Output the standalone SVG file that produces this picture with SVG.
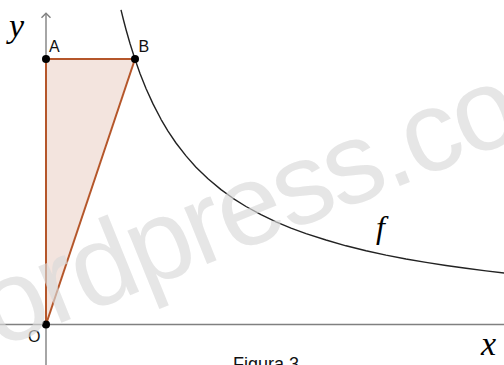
<svg xmlns="http://www.w3.org/2000/svg" width="504" height="365" viewBox="0 0 504 365">
  <style>
    .axis { stroke: #808080; stroke-width: 1.4; fill: none; }
    .edge { stroke: #b5562a; stroke-width: 2; fill: none; stroke-linejoin: round; }
    .pt { fill: #000; }
    .lbl { font-family: "Liberation Sans", Arial, sans-serif; font-size: 16px; fill: #111; }
    .math { font-family: "Liberation Serif", "Times New Roman", serif; font-style: italic; fill: #000; }
    .wm { font-family: "Liberation Sans", Arial, sans-serif; font-size: 115px; letter-spacing: -3px; fill: #d8d8d8; fill-opacity: 0.65; }
  </style>
  <rect width="504" height="365" fill="#fff"/>

  <g id="axes">
    <line class="axis" x1="0" y1="324.5" x2="504" y2="324.5"/>
    <line class="axis" x1="46" y1="365" x2="46" y2="13.5"/>
    <polyline class="axis" points="41.5,17.8 46,13.2 50.5,17.8"/>
  </g>

  <g id="triangle-fill">
    <polygon points="46,324.5 46,59 135,59" fill="#f3e4de"/>
  </g>

  <g id="curve-f">
    <path d="M121,9.8 L123.5,20 L126,29.5 L130,43.5 L135,59.3 L140,73.4 L146,88.5 L153,103.9 L161,119.3 L168,131.1 L176,143 L186,155.9 L196,167.2 L208,178.8 L221,189.6 L233,198.3 L246,206.5 L261,214.7 L276,221.9 L291,228.2 L306,233.7 L326,240 L346,245.8 L366,250.7 L386,255.1 L406,259 L426,262.4 L446,265.5 L466,268.3 L486,270.9 L506,273.2" fill="none" stroke="#222" stroke-width="1.4" stroke-linejoin="round"/>
  </g>

  <g id="connectors">
    <line class="edge" x1="46" y1="324.5" x2="46" y2="59"/>
    <line class="edge" x1="46" y1="59" x2="135" y2="59"/>
    <line class="edge" x1="135" y1="59" x2="46" y2="324.5"/>
  </g>

  <g id="point-O">
    <circle class="pt" cx="46" cy="324.5" r="4"/>
    <text class="lbl" x="28" y="342">O</text>
  </g>
  <g id="point-A">
    <circle class="pt" cx="46" cy="59" r="4"/>
    <text class="lbl" x="49" y="52">A</text>
  </g>
  <g id="point-B">
    <circle class="pt" cx="135" cy="59" r="4"/>
    <text class="lbl" x="138.5" y="52">B</text>
  </g>

  <g id="labels">
    <text class="math" x="9" y="37" font-size="34">y</text>
    <text class="math" x="481" y="355" font-size="34">x</text>
    <text class="math" x="376" y="238" font-size="32">f</text>
    <text class="lbl" x="233" y="370" style="font-size:18px">Figura 3</text>
  </g>

  <g id="watermark">
    <text class="wm" transform="translate(-2.5,348.7) rotate(-22)">ordpress.co</text>
  </g>
</svg>
